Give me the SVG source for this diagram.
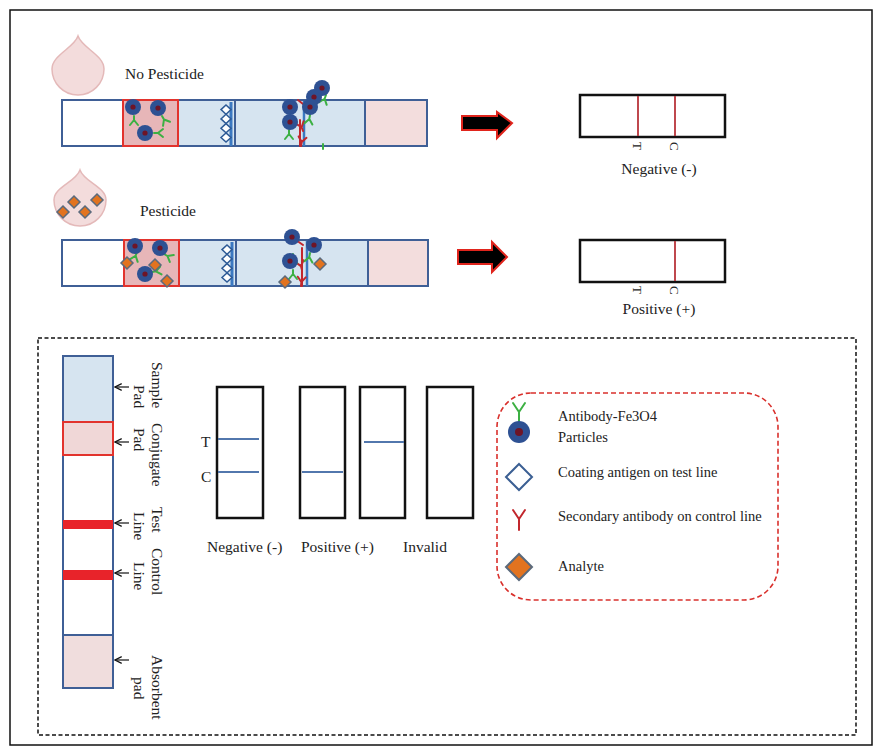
<svg xmlns="http://www.w3.org/2000/svg" xmlns:xlink="http://www.w3.org/1999/xlink" width="885" height="747" viewBox="0 0 885 747">
  <style>
    .t { font-family: "Liberation Serif", "Times New Roman", serif; fill: #222; }
    .f14 { font-size: 14.5px; }
    .f15 { font-size: 15.5px; }
    .strip { stroke: #3f5f96; stroke-width: 2; }
    .win { fill: #fff; stroke: #111; stroke-width: 2.5; }
    .ab { fill: none; stroke: #3cb043; stroke-width: 2; stroke-linecap: round; }
    .ab2 { fill: none; stroke: #c2272d; stroke-width: 2; stroke-linecap: round; }
    .ag { fill: #fff; stroke: #2d5a96; stroke-width: 1.5; }
    .an { fill: #e2731f; stroke: #5b6a7c; stroke-width: 1.5; }
    .arr { fill: #000; stroke: #e0241c; stroke-width: 2; stroke-linejoin: miter; }
    .lbl { fill: none; stroke: #111; stroke-width: 1.2; }
    .drop { fill: #f3dcdc; stroke: #e4b9b9; stroke-width: 1.5; }
  </style>
  <defs>
    <filter id="soft" x="-50%" y="-50%" width="200%" height="200%">
      <feGaussianBlur stdDeviation="0.7"/>
    </filter>
    <!-- magnetic particle: blue bead with a dark core -->
    <g id="p">
      <circle r="8" fill="#2e5193" filter="url(#soft)"/>
      <circle r="2.6" fill="#6e1527"/>
    </g>
    <!-- antibody glyph, stem base at origin, pointing up -->
    <path id="y" d="M0 0 V-4 M0 -4 L-4 -9 M0 -4 L4 -9"/>
    <!-- antigen / analyte diamonds -->
    <path id="dm" d="M0 -4.6 L5 0 L0 4.6 L-5 0 Z"/>
    <path id="an" d="M0 -6 L6 0 L0 6 L-6 0 Z"/>
    <marker id="ah" viewBox="0 0 10 10" refX="9" refY="5" markerWidth="7" markerHeight="7" orient="auto-start-reverse">
      <path d="M1 1 L9 5 L1 9" fill="none" stroke="#111" stroke-width="1.4"/>
    </marker>
  </defs>

  <!-- outer frame -->
  <rect x="10" y="10" width="862" height="735" fill="#fff" stroke="#111" stroke-width="1.5"/>

  <!-- ===== Row 1: no pesticide ===== -->
  <g id="drop1">
    <path d="M78 36 C82 48 104 55 104 69 A26 26 0 0 1 52 69 C52 55 74 48 78 36 Z" class="drop"/>
  </g>
  <text class="t f15" x="125" y="79">No Pesticide</text>

  <g id="strip1">
    <rect x="62" y="100" width="365" height="46" fill="#fff"/>
    <rect x="178" y="100" width="187" height="46" fill="#d6e4f0"/>
    <rect x="365" y="100" width="62" height="46" fill="#f3dddd"/>
    <rect x="62" y="100" width="365" height="46" fill="none" class="strip"/>
    <line x1="365" y1="100" x2="365" y2="146" class="strip"/>
    <line x1="235" y1="100" x2="235" y2="146" class="strip"/>
    <rect x="123" y="100" width="55" height="46" fill="#e7b6b8" stroke="#e2332d" stroke-width="2"/>
    <!-- test line with coating antigen -->
    <line x1="231" y1="102" x2="231" y2="146" stroke="#3b78c1" stroke-width="3"/>
    <use href="#dm" x="226" y="109.6" class="ag"/>
    <use href="#dm" x="226" y="118.9" class="ag"/>
    <use href="#dm" x="226" y="128.2" class="ag"/>
    <use href="#dm" x="226" y="137.5" class="ag"/>
    <!-- conjugate pad particles -->
    <use href="#y" class="ab" transform="translate(134 116) rotate(180)"/>
    <use href="#y" class="ab" transform="translate(162 116) rotate(150)"/>
    <use href="#y" class="ab" transform="translate(154 133) rotate(90)"/>
    <use href="#p" x="133" y="107"/>
    <use href="#p" x="158" y="108"/>
    <use href="#p" x="145" y="133"/>
    <!-- control line capture -->
    <line x1="304" y1="101" x2="304" y2="146" stroke="#3b78c1" stroke-width="2.5"/>
    <path d="M298 100 L303 104" class="ab2"/>
    <use href="#y" class="ab2" transform="translate(303 131) rotate(-20)"/>
    <use href="#y" class="ab2" transform="translate(301 146) rotate(10)"/>
    <path d="M300 146 V120" class="ab2"/>
    <use href="#y" class="ab" transform="translate(289 130) rotate(180)"/>
    <use href="#y" class="ab" transform="translate(310 115) rotate(190)"/>
    <use href="#y" class="ab" transform="translate(326 95) rotate(200)"/>
    <line x1="323" y1="144" x2="323" y2="149" class="ab"/>
    <use href="#p" x="322" y="88"/>
    <use href="#p" x="314" y="97"/>
    <use href="#p" x="310" y="107"/>
    <use href="#p" x="290" y="107"/>
    <use href="#p" x="290" y="122"/>
  </g>

  <g id="arrow1">
    <path d="M462 116 H497 V112 L512 123 L497 138 V130 H462 Z" class="arr"/>
  </g>

  <g id="result1">
    <rect x="580" y="95" width="145" height="42" class="win"/>
    <line x1="638" y1="96" x2="638" y2="136" stroke="#b8343a" stroke-width="1.8"/>
    <line x1="675" y1="96" x2="675" y2="136" stroke="#b8343a" stroke-width="1.8"/>
    <text class="t" font-size="13" transform="translate(633 142) rotate(90)">T</text>
    <text class="t" font-size="13" transform="translate(670 142) rotate(90)">C</text>
    <text class="t f15" x="659" y="174" text-anchor="middle">Negative (-)</text>
  </g>

  <!-- ===== Row 2: pesticide ===== -->
  <g id="drop2">
    <path d="M80 170 C84 182 106 187 106 200 A26 26 0 0 1 54 200 C54 187 76 182 80 170 Z" class="drop"/>
    <use href="#an" x="63" y="212" class="an"/>
    <use href="#an" x="74" y="202" class="an"/>
    <use href="#an" x="85" y="212" class="an"/>
    <use href="#an" x="97" y="200" class="an"/>
  </g>
  <text class="t f15" x="140" y="216">Pesticide</text>

  <g id="strip2">
    <rect x="62" y="240" width="366" height="46" fill="#fff"/>
    <rect x="179" y="240" width="189" height="46" fill="#d6e4f0"/>
    <rect x="368" y="240" width="60" height="46" fill="#f3dddd"/>
    <rect x="62" y="240" width="366" height="46" fill="none" class="strip"/>
    <line x1="368" y1="240" x2="368" y2="286" class="strip"/>
    <line x1="236" y1="240" x2="236" y2="286" class="strip"/>
    <rect x="124" y="240" width="55" height="46" fill="#e7b6b8" stroke="#e2332d" stroke-width="2"/>
    <line x1="232" y1="242" x2="232" y2="286" stroke="#3b78c1" stroke-width="3"/>
    <use href="#dm" x="227" y="249.6" class="ag"/>
    <use href="#dm" x="227" y="258.9" class="ag"/>
    <use href="#dm" x="227" y="268.2" class="ag"/>
    <use href="#dm" x="227" y="277.5" class="ag"/>
    <!-- conjugate pad: particles binding analyte -->
    <use href="#y" class="ab" transform="translate(137 252) rotate(200)"/>
    <use href="#y" class="ab" transform="translate(164 254) rotate(120)"/>
    <use href="#y" class="ab" transform="translate(152 272) rotate(80)"/>
    <use href="#p" x="135" y="246"/>
    <use href="#p" x="160" y="248"/>
    <use href="#p" x="145" y="274"/>
    <use href="#an" x="127" y="263" class="an"/>
    <use href="#an" x="155" y="265" class="an"/>
    <use href="#an" x="167" y="281" class="an"/>
    <!-- control line -->
    <line x1="307" y1="241" x2="307" y2="286" stroke="#3b78c1" stroke-width="2.5"/>
    <path d="M302 286 V248 M296 240 L303 245" class="ab2"/>
    <use href="#y" class="ab2" transform="translate(302 270) rotate(-15)"/>
    <use href="#y" class="ab2" transform="translate(301 286) rotate(5)"/>
    <use href="#y" class="ab" transform="translate(293 254) rotate(180)"/>
    <use href="#y" class="ab" transform="translate(310 253) rotate(190)"/>
    <use href="#y" class="ab" transform="translate(293 270) rotate(180)"/>
    <use href="#p" x="292" y="237"/>
    <use href="#p" x="314" y="245"/>
    <use href="#p" x="290" y="261"/>
    <use href="#an" x="320" y="264" class="an"/>
    <use href="#an" x="285" y="282" class="an"/>
  </g>

  <g id="arrow2">
    <path d="M458 250 H492 V242 L507 257 L492 272 V264 H458 Z" class="arr"/>
  </g>

  <g id="result2">
    <rect x="580" y="240" width="145" height="42" class="win"/>
    <line x1="675" y1="241" x2="675" y2="281" stroke="#b8343a" stroke-width="1.8"/>
    <text class="t" font-size="13" transform="translate(633 286) rotate(90)">T</text>
    <text class="t" font-size="13" transform="translate(670 286) rotate(90)">C</text>
    <text class="t f15" x="659" y="314" text-anchor="middle">Positive (+)</text>
  </g>

  <!-- ===== Key panel ===== -->
  <rect x="38" y="338" width="818" height="397" fill="none" stroke="#111" stroke-width="1.5" stroke-dasharray="4 2.5"/>

  <g id="keystrip">
    <rect x="63" y="356" width="50" height="66" fill="#d6e4f0"/>
    <rect x="63" y="455" width="50" height="180" fill="#fff"/>
    <rect x="63" y="635" width="50" height="53" fill="#f0dddd"/>
    <rect x="63" y="356" width="50" height="332" fill="none" class="strip"/>
    <line x1="63" y1="635" x2="113" y2="635" class="strip"/>
    <rect x="63" y="422" width="50" height="33" fill="#f0d7d7" stroke="#e2332d" stroke-width="2"/>
    <rect x="63" y="520" width="50" height="9" fill="#e8232a"/>
    <rect x="63" y="570" width="50" height="10" fill="#e8232a"/>
  </g>

  <g id="keylabels">
    <text class="t f15" transform="translate(152 362) rotate(90)">Sample</text>
    <text class="t f15" transform="translate(134 385) rotate(90)">Pad</text>
    <text class="t f15" transform="translate(152 423) rotate(90)">Conjugate</text>
    <text class="t f15" transform="translate(134 428) rotate(90)">Pad</text>
    <text class="t f15" transform="translate(152 507) rotate(90)">Test</text>
    <text class="t f15" transform="translate(134 512) rotate(90)">Line</text>
    <text class="t f15" transform="translate(152 548) rotate(90)">Control</text>
    <text class="t f15" transform="translate(134 562) rotate(90)">Line</text>
    <text class="t f15" transform="translate(152 655) rotate(90)">Absorbent</text>
    <text class="t f15" transform="translate(134 677) rotate(90)">pad</text>
  </g>

  <g id="connectors">
    <line x1="129" y1="387" x2="115" y2="387" class="lbl" marker-end="url(#ah)"/>
    <line x1="129" y1="442" x2="115" y2="442" class="lbl" marker-end="url(#ah)"/>
    <line x1="129" y1="523" x2="115" y2="523" class="lbl" marker-end="url(#ah)"/>
    <line x1="129" y1="573" x2="115" y2="573" class="lbl" marker-end="url(#ah)"/>
    <line x1="129" y1="660" x2="115" y2="660" class="lbl" marker-end="url(#ah)"/>
  </g>

  <g id="win-negative">
    <rect x="217" y="387" width="46" height="131" class="win"/>
    <line x1="218" y1="439" x2="259" y2="439" stroke="#5277ad" stroke-width="1.8"/>
    <line x1="218" y1="472" x2="259" y2="472" stroke="#5277ad" stroke-width="1.8"/>
    <text class="t f15" x="201" y="447">T</text>
    <text class="t f15" x="201" y="482">C</text>
    <text class="t f15" x="207" y="552">Negative (-)</text>
  </g>
  <g id="win-positive-a">
    <rect x="300" y="387" width="45" height="131" class="win"/>
    <line x1="302" y1="472" x2="343" y2="472" stroke="#5277ad" stroke-width="1.8"/>
    <text class="t f15" x="301" y="552">Positive (+)</text>
  </g>
  <g id="win-positive-b">
    <rect x="360" y="387" width="45" height="131" class="win"/>
    <line x1="364" y1="442" x2="404" y2="442" stroke="#5277ad" stroke-width="1.8"/>
  </g>
  <g id="win-invalid">
    <rect x="427" y="387" width="46" height="131" class="win"/>
    <text class="t f15" x="403" y="552">Invalid</text>
  </g>

  <g id="legend">
    <rect x="497" y="393" width="281" height="207" rx="34" fill="none" stroke="#d9302c" stroke-width="1.6" stroke-dasharray="5 3"/>
    <g id="leg-particle">
      <path d="M519 421 V412 M519 412 L513 403 M519 412 L525 403" class="ab"/>
      <circle cx="519" cy="432" r="11" fill="#2e5193" filter="url(#soft)"/>
      <circle cx="519" cy="432" r="4" fill="#6e1527"/>
      <text class="t f14" x="558" y="421">Antibody-Fe3O4</text>
      <text class="t f14" x="558" y="442">Particles</text>
    </g>
    <g id="leg-antigen">
      <path d="M519 464 L532 477 L519 490 L506 477 Z" fill="#fff" stroke="#3b5f93" stroke-width="2"/>
      <text class="t f14" x="558" y="477">Coating antigen on test line</text>
    </g>
    <g id="leg-secondary">
      <path d="M519 530 V519 M519 519 L513 510 M519 519 L525 510" class="ab2"/>
      <text class="t f14" x="558" y="521">Secondary antibody on control line</text>
    </g>
    <g id="leg-analyte">
      <path d="M519 554 L532 567 L519 580 L506 567 Z" fill="#e2731f" stroke="#5b6a7c" stroke-width="2"/>
      <text class="t f14" x="558" y="571">Analyte</text>
    </g>
  </g>
</svg>
